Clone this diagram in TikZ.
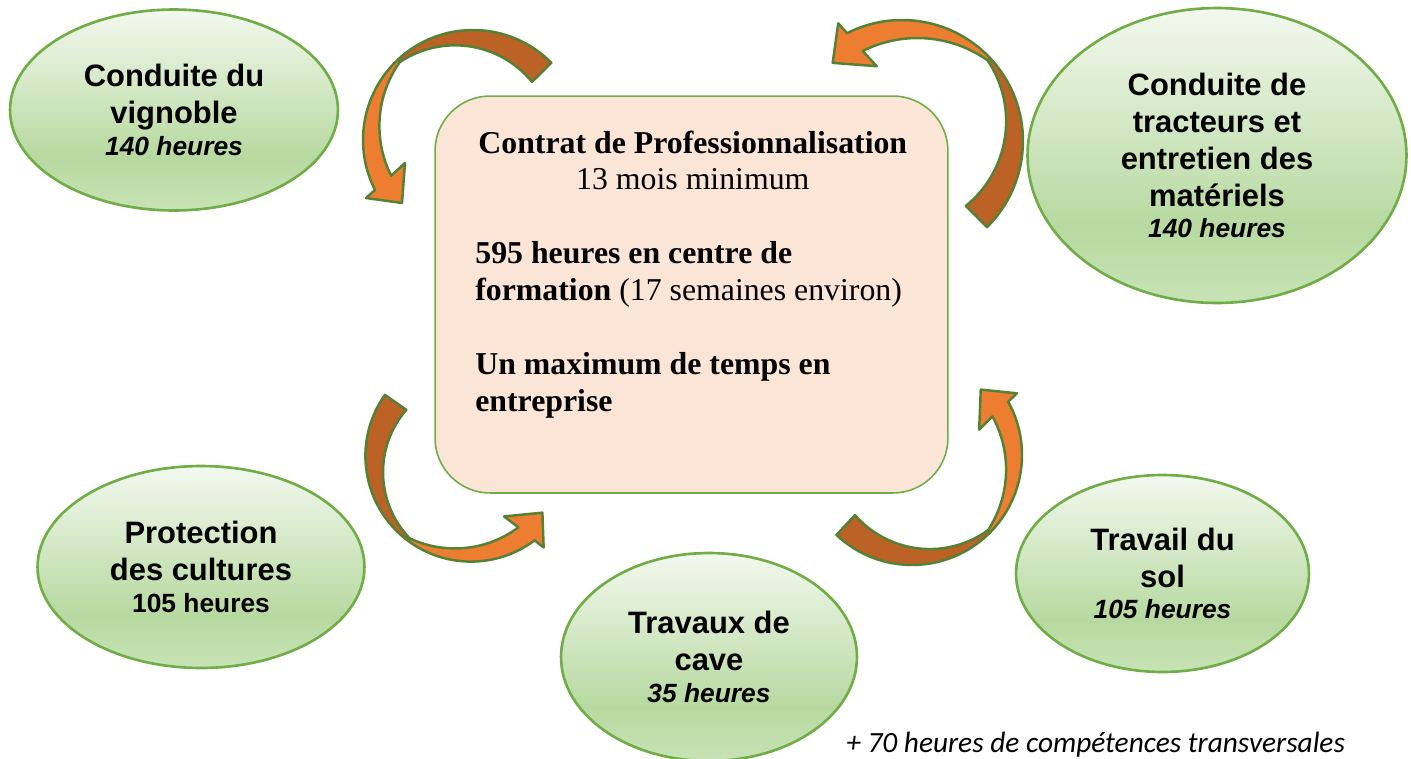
\documentclass[tikz,border=0pt]{standalone}
\usepackage{fontspec}
\setmainfont{Liberation Serif}
\setsansfont{Liberation Sans}
\newfontfamily\calibrifont{Carlito}
\usetikzlibrary{shapes.geometric}

\definecolor{ovalline}{HTML}{70AD47}
\definecolor{ovaltop}{HTML}{F2F8EE}
\definecolor{ovaldeep}{HTML}{B7D9A0}
\definecolor{ovalbot}{HTML}{C8E3B6}
\definecolor{boxfill}{HTML}{FBE5D6}
\definecolor{arrowfront}{HTML}{ED7D31}
\definecolor{arrowback}{HTML}{BC6227}
\definecolor{arrowline}{HTML}{548235}

\pgfdeclareverticalshading{ovalshade}{100bp}{color(0bp)=(ovalbot); color(25bp)=(ovalbot); color(38bp)=(ovaldeep); color(75bp)=(ovaltop); color(100bp)=(ovaltop)}

\newcommand\hrsize{\fontsize{15}{18}\selectfont}

% one curved arrow, drawn round (0,0); tail up right, head down left
\newcommand\curvedarrow{%
  \draw[frontpart] (-133:110) arc[start angle=-133, end angle=-207, radius=110]
    -- (-107,58) -- (-71,63) -- (-68,23) -- (-81.8,35.7)
    arc[start angle=-206.7, end angle=-144.6, radius=110.6] -- cycle;
  \draw[backpart] (-44.6:110) arc[start angle=-44.6, end angle=-133, radius=110]
    -- (-73,-78) arc[start angle=-123.7, end angle=-39.1, radius=99.2] -- cycle;
}

\begin{document}
\begin{tikzpicture}[x=0.02cm,y=-0.02cm,
  oval/.style={ellipse,shade,shading=ovalshade,draw=ovalline,line width=1.5pt,inner sep=0pt,align=center,font=\sffamily\bfseries\fontsize{17.6}{21}\selectfont},
  contratbox/.style={draw=ovalline,line width=0.9pt,fill=boxfill,rounded corners=1.1cm,minimum width=10.26cm,minimum height=7.94cm,inner sep=0pt},
  frontpart/.style={fill=arrowfront,draw=arrowline,line width=1.4pt,line join=round},
  backpart/.style={fill=arrowback,draw=arrowline,line width=1.4pt,line join=round}]

\useasboundingbox (0,0) rectangle (1411,758);

% -- ovals
\node[oval,minimum width=6.56cm,minimum height=4.02cm] (vignoble) at (174,110) {Conduite du\\vignoble\\[-3pt]{\hrsize\itshape 140 heures}};
\node[oval,minimum width=7.58cm,minimum height=5.9cm] (tracteurs) at (1217,155.5) {Conduite de\\tracteurs et\\entretien des\\matériels\\[-3pt]{\hrsize\itshape 140 heures}};
\node[oval,minimum width=6.54cm,minimum height=4.04cm] (protection) at (201,567) {Protection\\des cultures\\[-3pt]{\hrsize 105 heures}};
\node[oval,minimum width=5.92cm,minimum height=4.16cm] (cave) at (709,657) {Travaux de\\cave\\[-3pt]{\hrsize\itshape 35 heures}};
\node[oval,minimum width=5.86cm,minimum height=3.94cm] (sol) at (1162.5,573.5) {Travail du\\sol\\[-3pt]{\hrsize\itshape 105 heures}};

% -- centre box
\node[contratbox] (contrat) at (691.5,294.5) {};
\node[anchor=base west,text width=8.7cm,align=flush left,inner sep=0pt,font=\fontsize{18.1}{21}\selectfont] (contratText) at (475,153)
  {{\centering\textbf{Contrat de Professionnalisation}\\13 mois minimum\par}\vspace{21pt}
   \textbf{595 heures en centre de}\\\textbf{formation} (17 semaines environ)\par\vspace{21pt}
   \textbf{Un maximum de temps en}\\\textbf{entreprise}};

% -- arrows
\begin{scope}[shift={(473,140)}]
  \curvedarrow
\end{scope}
\begin{scope}[shift={(902,141)},rotate=-90,scale=1.1]
  \curvedarrow
\end{scope}
\begin{scope}[shift={(471,456)},rotate=100,scale=0.96]
  \curvedarrow
\end{scope}
\begin{scope}[shift={(912,455)},rotate=182]
  \curvedarrow
\end{scope}

\node[anchor=base west,inner sep=0pt,font=\calibrifont\itshape\fontsize{16.7}{20}\selectfont] (transv) at (846,752) {+ 70 heures de compétences transversales};
\end{tikzpicture}
\end{document}
